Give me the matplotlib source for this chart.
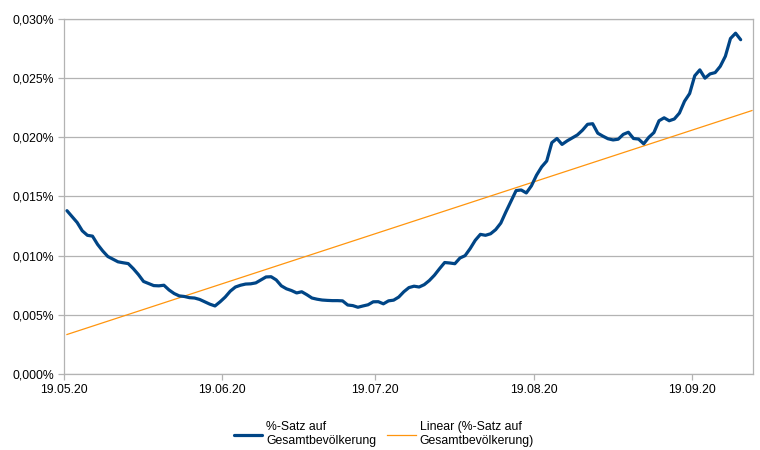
"""
Share of the total population (%-Satz auf Gesamtbevoelkerung), daily,
with a linear trend line as drawn by the spreadsheet.
"""

import numpy as np
import pandas as pd
import matplotlib
matplotlib.use("Agg")
import matplotlib.pyplot as plt
import matplotlib.dates as mdates
from matplotlib.ticker import FuncFormatter, MultipleLocator

START_DATE = "2020-05-19"

# daily values in percent (19.05.20 .. 28.09.20)
rate_pct = [
    0.01380, 0.01330, 0.01280, 0.01210, 0.01172, 0.01165, 0.01095, 0.01040,
    0.00993, 0.00970, 0.00948, 0.00940, 0.00933, 0.00890, 0.00840, 0.00782,
    0.00765, 0.00747, 0.00745, 0.00750, 0.00710, 0.00680, 0.00660, 0.00655,
    0.00645, 0.00642, 0.00630, 0.00610, 0.00590, 0.00575, 0.00610, 0.00650,
    0.00700, 0.00735, 0.00750, 0.00760, 0.00762, 0.00770, 0.00795, 0.00820,
    0.00822, 0.00795, 0.00745, 0.00720, 0.00705, 0.00685, 0.00695, 0.00670,
    0.00642, 0.00632, 0.00625, 0.00622, 0.00620, 0.00620, 0.00618, 0.00583,
    0.00578, 0.00564, 0.00575, 0.00585, 0.00610, 0.00611, 0.00593, 0.00618,
    0.00624, 0.00650, 0.00695, 0.00730, 0.00742, 0.00735, 0.00755, 0.00790,
    0.00835, 0.00890, 0.00942, 0.00938, 0.00932, 0.00980, 0.01000, 0.01060,
    0.01130, 0.01180, 0.01172, 0.01185, 0.01220, 0.01275, 0.01370, 0.01460,
    0.01550, 0.01555, 0.01530, 0.01590, 0.01680, 0.01750, 0.01800, 0.01955,
    0.01990, 0.01940, 0.01970, 0.01995, 0.02020, 0.02060, 0.02110, 0.02115,
    0.02035, 0.02010, 0.01988, 0.01978, 0.01984, 0.02025, 0.02043, 0.01990,
    0.01985, 0.01945, 0.02000, 0.02040, 0.02140, 0.02165, 0.02140, 0.02155,
    0.02205, 0.02305, 0.02370, 0.02520, 0.02570, 0.02500, 0.02536, 0.02547,
    0.02600, 0.02685, 0.02835, 0.02880, 0.02825,
]

tick_dates = ["2020-05-19", "2020-06-19", "2020-07-19", "2020-08-19", "2020-09-19"]
axis_end = "2020-10-01"

series_label = "%-Satz auf\nGesamtbevölkerung"
trend_label = "Linear (%-Satz auf\nGesamtbevölkerung)"

BLUE = "#004586"
ORANGE = "#ff950e"
GRID = "#b3b3b3"


def pct_label(v, _pos):
    return f"{v:.3f}%".replace(".", ",")


def main():
    plt.rcParams["font.family"] = ["Liberation Sans", "DejaVu Sans"]

    days = pd.date_range(START_DATE, periods=len(rate_pct), freq="D")
    # the spreadsheet puts each point in the middle of its day
    x = days + pd.Timedelta(hours=14)
    y = np.array(rate_pct)

    # least squares trend, extended to the end of the axis
    day_num = mdates.date2num(x)
    slope, intercept = np.polyfit(day_num, y, 1)
    trend_x = np.array([day_num[0], mdates.date2num(pd.Timestamp(axis_end)) - 0.2])
    trend_y = slope * trend_x + intercept

    fig = plt.figure(figsize=(7.6, 4.5), dpi=100)
    ax = fig.add_axes([0.0842, 0.1689, 0.9066, 0.7889])

    ax.plot(x, y, color=BLUE, lw=2.3, solid_capstyle="round",
            solid_joinstyle="round", label=series_label, zorder=3)
    ax.plot(mdates.num2date(trend_x), trend_y, color=ORANGE, lw=0.9,
            label=trend_label, zorder=2)

    ax.set_ylim(0, 0.030)
    ax.set_xlim(pd.Timestamp(START_DATE), pd.Timestamp(axis_end))
    ax.yaxis.set_major_locator(MultipleLocator(0.005))
    ax.yaxis.set_major_formatter(FuncFormatter(pct_label))
    ax.set_xticks(pd.to_datetime(tick_dates))
    ax.xaxis.set_major_formatter(mdates.DateFormatter("%d.%m.%y"))

    ax.grid(axis="y", color=GRID, lw=0.9)
    ax.set_axisbelow(True)
    for side in ax.spines.values():
        side.set_color(GRID)
        side.set_linewidth(0.9)
    ax.tick_params(axis="both", length=4, width=0.9, color=GRID,
                   labelsize=8.8, labelcolor="black", pad=3)

    fig.legend(loc="upper center", bbox_to_anchor=(0.505, 0.088), ncol=2,
               frameon=False, fontsize=8.8, handlelength=2.35,
               handletextpad=0.3, columnspacing=0.9)

    fig.savefig("out.png", dpi=100)
    plt.close(fig)


if __name__ == "__main__":
    main()
